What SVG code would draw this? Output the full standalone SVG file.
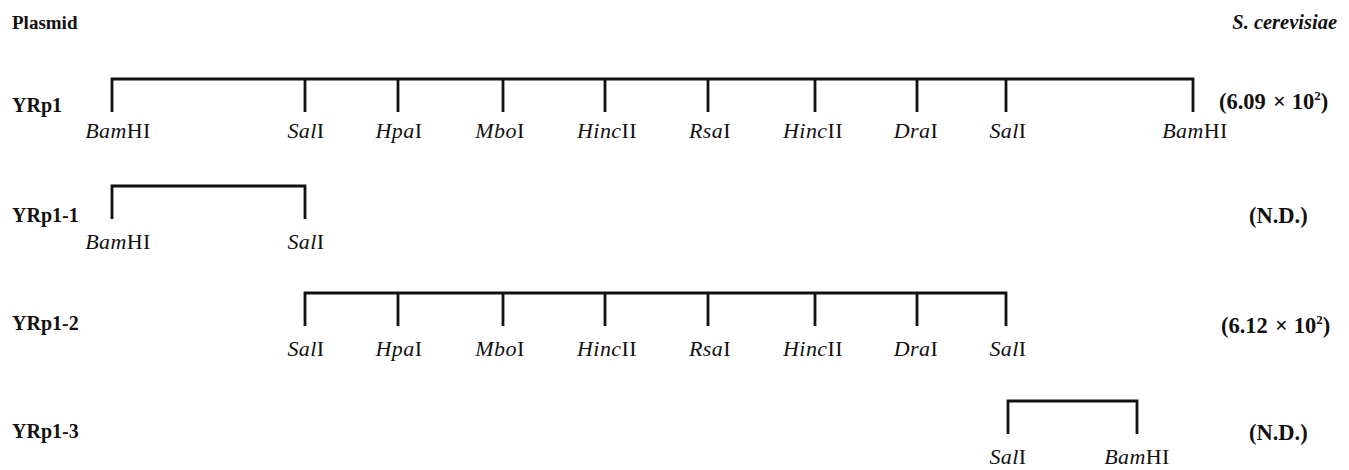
<svg xmlns="http://www.w3.org/2000/svg" width="1349" height="470" viewBox="0 0 1349 470">
  <style>
    text { font-family: "Liberation Serif", "Times New Roman", serif; fill: #111; }
    .hdr { font-size: 19px; font-weight: bold; }
    .hdri { font-size: 20.5px; font-weight: bold; font-style: italic; }
    .row { font-size: 20px; font-weight: bold; }
    .val { font-size: 22.5px; font-weight: bold; }
    .sup { font-size: 13px; }
    .site { font-size: 22px; text-anchor: middle; letter-spacing: 0.4px; }
    .it { font-style: italic; }
    .br { fill: none; stroke: #111; stroke-width: 2.8; stroke-linejoin: miter; stroke-linecap: butt; }
  </style>
  <rect width="1349" height="470" fill="#fff"/>

  <g id="headers">
    <text class="hdr" x="12" y="29">Plasmid</text>
    <text class="hdri" x="1337" y="29" text-anchor="end">S.  cerevisiae</text>
  </g>

  <g id="connectors">
    <path class="br" d="M112,112 V79 H1193 V112 M305,79 V112 M398,79 V112 M503,79 V112 M605,79 V112 M708,79 V112 M815,79 V112 M917,79 V112 M1006,79 V112"/>
    <path class="br" d="M112,219 V186 H305 V219"/>
    <path class="br" d="M305,326 V293 H1006 V326 M398,293 V326 M503,293 V326 M605,293 V326 M708,293 V326 M815,293 V326 M917,293 V326"/>
    <path class="br" d="M1008,434 V401 H1137 V434"/>
  </g>

  <g id="row-YRp1">
    <text class="row" x="12" y="112">YRp1</text>
    <text class="site" x="118" y="138"><tspan class="it">Bam</tspan>HI</text>
    <text class="site" x="306" y="138"><tspan class="it">Sal</tspan>I</text>
    <text class="site" x="399" y="138"><tspan class="it">Hpa</tspan>I</text>
    <text class="site" x="500" y="138"><tspan class="it">Mbo</tspan>I</text>
    <text class="site" x="607" y="138"><tspan class="it">Hinc</tspan>II</text>
    <text class="site" x="710" y="138"><tspan class="it">Rsa</tspan>I</text>
    <text class="site" x="813" y="138"><tspan class="it">Hinc</tspan>II</text>
    <text class="site" x="916" y="138"><tspan class="it">Dra</tspan>I</text>
    <text class="site" x="1008" y="138"><tspan class="it">Sal</tspan>I</text>
    <text class="site" x="1195" y="138"><tspan class="it">Bam</tspan>HI</text>
    <text class="val" x="1219" y="109">(6.09<tspan dx="7">×</tspan><tspan dx="6">10</tspan><tspan class="sup" dy="-9">2</tspan><tspan dy="9">)</tspan></text>
  </g>

  <g id="row-YRp1-1">
    <text class="row" x="12" y="222">YRp1-1</text>
    <text class="site" x="118" y="249"><tspan class="it">Bam</tspan>HI</text>
    <text class="site" x="306" y="249"><tspan class="it">Sal</tspan>I</text>
    <text class="val" x="1249" y="223">(N.D.)</text>
  </g>

  <g id="row-YRp1-2">
    <text class="row" x="12" y="330">YRp1-2</text>
    <text class="site" x="306" y="356"><tspan class="it">Sal</tspan>I</text>
    <text class="site" x="399" y="356"><tspan class="it">Hpa</tspan>I</text>
    <text class="site" x="500" y="356"><tspan class="it">Mbo</tspan>I</text>
    <text class="site" x="607" y="356"><tspan class="it">Hinc</tspan>II</text>
    <text class="site" x="710" y="356"><tspan class="it">Rsa</tspan>I</text>
    <text class="site" x="813" y="356"><tspan class="it">Hinc</tspan>II</text>
    <text class="site" x="916" y="356"><tspan class="it">Dra</tspan>I</text>
    <text class="site" x="1008" y="356"><tspan class="it">Sal</tspan>I</text>
    <text class="val" x="1221" y="333">(6.12<tspan dx="7">×</tspan><tspan dx="6">10</tspan><tspan class="sup" dy="-9">2</tspan><tspan dy="9">)</tspan></text>
  </g>

  <g id="row-YRp1-3">
    <text class="row" x="12" y="438">YRp1-3</text>
    <text class="site" x="1008" y="464"><tspan class="it">Sal</tspan>I</text>
    <text class="site" x="1137" y="464"><tspan class="it">Bam</tspan>HI</text>
    <text class="val" x="1249" y="440">(N.D.)</text>
  </g>
</svg>
